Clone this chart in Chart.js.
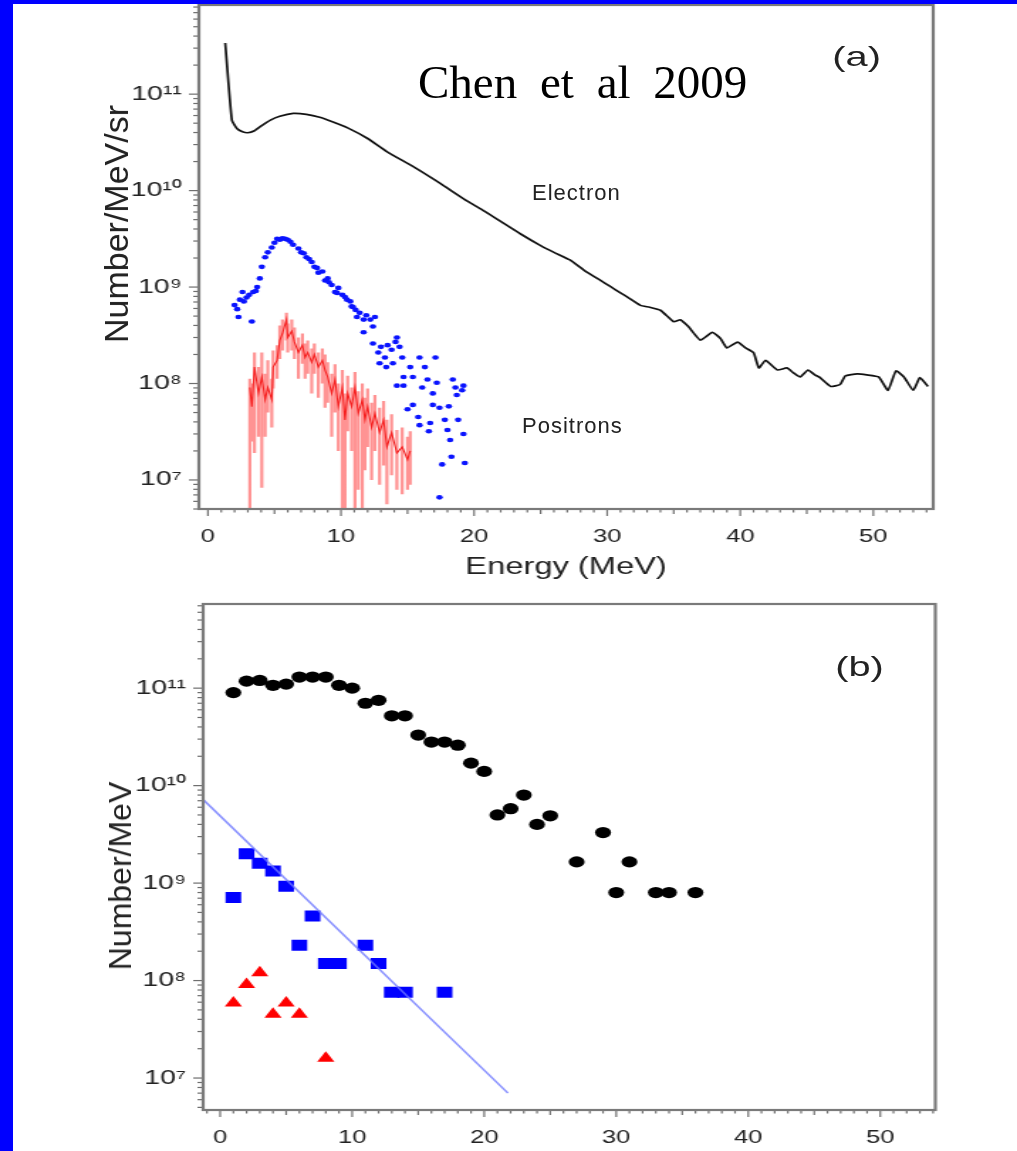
<!DOCTYPE html>
<html>
<head>
<meta charset="utf-8">
<script src="https://cdn.jsdelivr.net/npm/chart.js@4.4.1/dist/chart.umd.min.js"></script>
<style>
html, body { margin: 0; padding: 0; background: #fff; width: 1017px; height: 1151px; overflow: hidden; }
#wrap { position: absolute; left: 0; top: 0; width: 716px; height: 1151px; transform: scaleX(1.42039); transform-origin: 0 0; }
#wrap canvas { position: absolute; left: 0; }
.lbl { position: absolute; white-space: nowrap; line-height: 1; color: #222; font-family: 'Liberation Sans', Arial, Helvetica, sans-serif; }
.ytitle { transform: translate(-50%, -50%) rotate(-90deg); }
.bar { position: absolute; background: #0000ff; }
</style>
</head>
<body>
<div id="wrap">
  <canvas id="chartA" width="716" height="590" style="top:0"></canvas>
  <canvas id="chartB" width="716" height="561" style="top:590px"></canvas>
  <div class="lbl" style="left:586px; top:43px; font-size:28px;">(a)</div>
  <div class="lbl" style="left:588px; top:653px; font-size:28px;">(b)</div>
</div>
<div class="lbl" style="left:532px; top:182px; font-size:22px; letter-spacing:1px;">Electron</div>
<div class="lbl" style="left:522px; top:415px; font-size:22px; letter-spacing:1px;">Positrons</div>
<div class="lbl ytitle" style="left:116px; top:224px; font-size:34px;">Number/MeV/sr</div>
<div class="lbl ytitle" style="left:120px; top:876px; font-size:32px;">Number/MeV</div>
<div class="lbl" style="left:418px; top:59px; font-size:47px; color:#000; word-spacing:11px; font-family:'Liberation Serif','Times New Roman',serif;">Chen et al 2009</div>
<div class="bar" style="left:0; top:0; width:13px; height:1151px;"></div>
<div class="bar" style="left:0; top:0; width:1017px; height:4px;"></div>

<script>
const FONT = "'Liberation Sans', Arial, Helvetica, sans-serif";
Chart.defaults.font.family = FONT;
Chart.defaults.color = '#222';
Chart.defaults.animation = false;

// axis ticks
const xTicks = [0, 10, 20, 30, 40, 50];
const yTicks = [1e7, 1e8, 1e9, 1e10, 1e11];

// (a) electron spectrum (MeV, Number/MeV/sr)
const elecE = [1.3, 1.8, 2.2, 2.6, 3.0, 3.5, 3.9, 4.7, 5.4, 6.4, 7.4, 8.4, 9.4, 10.5, 12, 13.5, 15.4, 17.4,
  19.5, 20.5, 22, 23.5, 25, 26, 27.2, 28.3, 29.5, 30.2, 31, 31.7, 32.5, 33.2, 34, 35, 35.5, 36.1, 37, 37.9,
  38.5, 39, 39.8, 40.4, 41, 41.4, 41.9, 42.8, 43.5, 44, 44.5, 45.1, 45.6, 46, 46.8, 47.5, 47.9, 48.8, 49.5,
  50.4, 51.1, 51.7, 52.3, 53, 53.5, 54.1];
const elecN = [3.39e11, 5.37e10, 4.37e10, 4.07e10, 3.98e10, 4.17e10, 4.57e10, 5.37e10, 5.89e10, 6.31e10,
  6.17e10, 5.75e10, 5.13e10, 4.47e10, 3.47e10, 2.51e10, 1.78e10, 1.2e10, 7.76e9, 6.46e9, 4.79e9, 3.55e9,
  2.69e9, 2.29e9, 1.91e9, 1.48e9, 1.17e9, 1.02e9, 8.71e8, 7.59e8, 6.46e8, 6.17e8, 5.75e8, 4.37e8, 4.57e8,
  3.89e8, 2.82e8, 3.39e8, 2.95e8, 2.34e8, 2.69e8, 2.34e8, 2.09e8, 1.45e8, 1.74e8, 1.38e8, 1.45e8, 1.29e8,
  1.17e8, 1.38e8, 1.23e8, 1.15e8, 9.33e7, 9.77e7, 1.2e8, 1.26e8, 1.23e8, 1.17e8, 8.51e7, 1.35e8, 1.17e8,
  8.51e7, 1.15e8, 9.33e7];

// (a) positrons, blue points
const posE = [2.0, 2.2, 2.3, 2.4, 2.6, 2.7, 2.9, 3.1, 3.3, 3.4, 3.6, 3.7, 3.9, 4.05, 4.3, 4.5, 4.8, 5.0,
  5.2, 5.4, 5.6, 5.8, 6.0, 6.2, 6.4, 6.8, 7.0, 7.2, 7.4, 7.6, 7.8, 8.0, 8.2, 8.3, 8.6, 8.8, 9.0, 9.1, 9.3,
  9.55, 9.7, 9.8, 10.1, 10.3, 10.45, 10.7, 10.8, 10.9, 11.1, 11.2, 11.4, 11.7, 11.7, 11.9, 12.2, 12.4, 12.4,
  12.55, 12.8, 12.9, 13.0, 13.3, 13.4, 13.5, 13.8, 13.9, 14.1, 14.2, 14.2, 14.4, 14.6, 14.7, 14.7, 15.0,
  15.2, 15.4, 15.4, 15.8, 15.9, 15.9, 16.1, 16.3, 16.5, 16.6, 16.7, 16.9, 16.9, 17.1, 17.2, 17.4, 17.4,
  17.6, 17.8, 18.0, 18.1, 18.2, 18.3, 18.4, 18.6, 18.7, 18.8, 19.1, 19.2, 19.2, 19.3];
const posN = [6.5e8, 5.9e8, 4.9e8, 7.4e8, 8.9e8, 7.1e8, 7.8e8, 8.3e8, 4.4e8, 8.9e8, 9.1e8, 1.0e9, 1.23e9,
  1.62e9, 2.04e9, 2.29e9, 2.57e9, 2.88e9, 3.16e9, 3.09e9, 3.2e9, 3.16e9, 3.09e9, 2.95e9, 2.75e9, 2.51e9,
  2.29e9, 2.24e9, 2.04e9, 1.95e9, 1.82e9, 1.62e9, 1.58e9, 1.41e9, 1.45e9, 1.17e9, 1.23e9, 1.12e9, 1.05e9,
  8.9e8, 8.7e8, 9.8e8, 8.3e8, 7.9e8, 7.4e8, 7.1e8, 6.3e8, 6.2e8, 5.8e8, 4.9e8, 5.4e8, 4.6e8, 3.4e8, 5.1e8,
  4.6e8, 3.9e8, 2.6e8, 4.9e8, 2.1e8, 1.62e8, 2.4e8, 1.86e8, 1.48e8, 2.5e8, 2.24e8, 1.62e8, 2.7e8, 3.0e8,
  9.5e7, 2.4e8, 1.86e8, 9.5e7, 1.17e8, 5.4e7, 1.48e8, 1.17e8, 6.0e7, 4.5e7, 1.86e8, 3.7e7, 9.1e7, 1.48e8,
  1.1e8, 3.2e7, 3.9e7, 7.9e7, 6.0e7, 1.86e8, 1.02e8, 5.6e7, 6.6e6, 1.45e7, 4.2e7, 3.3e7, 5.8e7, 2.6e7,
  1.74e7, 1.1e8, 9.1e7, 7.6e7, 4.2e7, 8.5e7, 3.0e7, 9.5e7, 1.5e7];

// (a) positrons, red line with error bars
const redE = [3.15, 3.3, 3.5, 3.8, 4.05, 4.3, 4.5, 4.8, 4.9, 5.2, 5.4, 5.6, 5.9, 6.0, 6.3, 6.5, 6.8, 7.1,
  7.3, 7.5, 7.8, 8.0, 8.3, 8.6, 8.8, 9.0, 9.3, 9.55, 9.8, 10.1, 10.3, 10.5, 10.8, 11.05, 11.3, 11.6, 11.8,
  12.0, 12.3, 12.55, 12.9, 13.2, 13.45, 13.8, 14.2, 14.6, 15.0, 15.2];
const redN = [9.1e7, 5.75e7, 1.48e8, 7.9e7, 1.17e8, 6.8e7, 9.1e7, 6.8e7, 1.48e8, 1.74e8, 2.8e8, 3.3e8,
  4.6e8, 3.0e8, 3.5e8, 2.7e8, 2.1e8, 2.5e8, 1.86e8, 2.1e8, 1.66e8, 2.0e8, 1.48e8, 1.74e8, 1.38e8, 1.17e8,
  7.9e7, 1.1e8, 5.75e7, 9.1e7, 4.2e7, 7.9e7, 5.75e7, 9.1e7, 4.9e7, 6.8e7, 4.2e7, 5.75e7, 3.5e7, 4.9e7,
  3.1e7, 4.2e7, 2.2e7, 3.1e7, 1.9e7, 2.2e7, 1.62e7, 2.0e7];
const redLo = [1e6, 2.5e7, 1.9e7, 2.8e7, 8.3e6, 2.8e7, 5.0e7, 3.5e7, 8.9e7, 1.12e8, 1.8e8, 2.2e8, 2.8e8,
  2.1e8, 2.2e8, 1.8e8, 1.12e8, 1.6e8, 1.12e8, 1.26e8, 7.9e7, 1.26e8, 7.1e7, 1.0e8, 5.6e7, 6.3e7, 2.8e7,
  5.0e7, 2.0e7, 1e6, 1e6, 3.2e7, 2.0e7, 1e6, 7.9e6, 1e6, 1.26e7, 2.2e7, 1.0e7, 2.0e7, 8.9e6, 1.41e7, 5.6e6,
  1.12e7, 7.9e6, 7.1e6, 7.9e6, 8.9e6];
const redHi = [1.12e8, 1.0e8, 2.1e8, 1.48e8, 2.1e8, 1.26e8, 1.74e8, 1.12e8, 2.2e8, 2.5e8, 4.0e8, 4.6e8,
  5.4e8, 4.2e8, 4.6e8, 3.8e8, 3.0e8, 3.3e8, 2.6e8, 2.8e8, 2.3e8, 2.6e8, 2.1e8, 2.3e8, 2.0e8, 1.66e8, 1.26e8,
  1.58e8, 1.0e8, 1.38e8, 7.9e7, 1.2e8, 9.1e7, 1.32e8, 8.3e7, 1.0e8, 7.1e7, 8.9e7, 6.3e7, 7.6e7, 5.6e7,
  6.6e7, 4.2e7, 4.8e7, 3.3e7, 3.5e7, 2.8e7, 3.2e7];

// (b) binned spectra (MeV, Number/MeV)
const binE = [1, 2, 3, 4, 5, 6, 7, 8, 9, 10, 11, 12, 13, 14, 15, 16, 17, 18, 19, 20, 21, 22, 23, 24, 25,
  27, 29, 30, 31, 33, 34, 36];
const binN = [9.0e10, 1.18e11, 1.2e11, 1.07e11, 1.1e11, 1.3e11, 1.3e11, 1.3e11, 1.07e11, 1.0e11, 7.0e10,
  7.5e10, 5.2e10, 5.2e10, 3.3e10, 2.8e10, 2.8e10, 2.6e10, 1.7e10, 1.4e10, 5.0e9, 5.8e9, 8.0e9, 4.0e9, 4.9e9,
  1.65e9, 3.3e9, 8.0e8, 1.65e9, 8.0e8, 8.0e8, 8.0e8];
const sqE = [1, 2, 3, 4, 5, 6, 7, 8, 9, 11, 12, 13, 14, 17];
const sqN = [7.1e8, 2.0e9, 1.6e9, 1.33e9, 9.3e8, 2.3e8, 4.6e8, 1.5e8, 1.5e8, 2.3e8, 1.5e8, 7.6e7, 7.6e7, 7.6e7];
const triE = [1, 2, 3, 4, 5, 6, 8];
const triN = [5.9e7, 9.1e7, 1.2e8, 4.5e7, 5.9e7, 4.5e7, 1.6e7];
const fitE = [-1.29, 21.8];
const fitN = [7.2e9, 7.0e6];

const pts = (xs, ys) => xs.map((x, i) => ({x: x, y: ys[i]}));
const errPts = redE.flatMap((x, i) => [{x: x, y: redLo[i]}, {x: x, y: redHi[i]}, {x: x, y: null}]);

const supMap = {'0': '⁰', '1': '¹', '2': '²', '3': '³', '4': '⁴', '5': '⁵', '6': '⁶', '7': '⁷', '8': '⁸', '9': '⁹'};
const powLabel = v => '10' + String(Math.round(Math.log10(v))).replace(/\d/g, d => supMap[d]);

// frame and minor ticks, drawn from the scales
const frameTicks = {
  id: 'frameTicks',
  afterDraw(chart) {
    const {ctx, chartArea: a, scales: {x, y}} = chart;
    ctx.save();
    ctx.strokeStyle = '#6f6f6f';
    ctx.lineWidth = 1.2;
    for (let v = Math.ceil(x.min); v <= x.max; v++) {
      const px = x.getPixelForValue(v);
      const len = v % 10 === 0 ? 7 : (v % 5 === 0 ? 5 : 3.5);
      ctx.beginPath();
      ctx.moveTo(px, a.bottom);
      ctx.lineTo(px, a.bottom + len);
      ctx.stroke();
    }
    const e0 = Math.floor(Math.log10(y.min)), e1 = Math.ceil(Math.log10(y.max));
    for (let e = e0; e <= e1; e++) {
      for (let m = 1; m < 10; m++) {
        const v = m * Math.pow(10, e);
        if (v < y.min || v > y.max) continue;
        const py = y.getPixelForValue(v);
        const len = m === 1 ? 7 : 4;
        ctx.beginPath();
        ctx.moveTo(a.left, py);
        ctx.lineTo(a.left - len, py);
        ctx.stroke();
      }
    }
    ctx.strokeStyle = '#7a7a7a';
    ctx.lineWidth = 2.2;
    ctx.strokeRect(a.left, a.top, a.right - a.left, a.bottom - a.top);
    ctx.restore();
  }
};

function axes(xMin, xMax, yMin, yMax, yWidth, xHeight, xTitle) {
  return {
    x: {
      type: 'linear', min: xMin, max: xMax, offset: false,
      grid: {display: false, drawTicks: false}, border: {display: false},
      afterBuildTicks: s => { s.ticks = xTicks.map(v => ({value: v})); },
      afterFit: s => { s.height = xHeight; s.paddingLeft = 0; s.paddingRight = 0; },
      ticks: {padding: 17, autoSkip: false, maxRotation: 0, color: '#222', font: {size: 18}},
      title: xTitle ? {display: true, text: xTitle, color: '#222', font: {size: 23}, padding: {top: 0, bottom: 9}} : {display: false}
    },
    y: {
      type: 'logarithmic', min: yMin, max: yMax,
      grid: {display: false, drawTicks: false}, border: {display: false},
      afterBuildTicks: s => { s.ticks = yTicks.map(v => ({value: v})); },
      afterFit: s => { s.width = yWidth; s.paddingTop = 0; s.paddingBottom = 0; },
      ticks: {padding: 12, color: '#222', font: {size: 20}, callback: v => powLabel(v)}
    }
  };
}

const common = {
  responsive: false,
  devicePixelRatio: 1,
  plugins: {legend: {display: false}, tooltip: {enabled: false}},
  events: []
};

new Chart(document.getElementById('chartA'), {
  type: 'scatter',
  data: {
    datasets: [
      {type: 'line', data: errPts, showLine: true, spanGaps: false, borderColor: 'rgba(255,40,40,0.5)', borderWidth: 2.2, pointRadius: 0},
      {type: 'line', data: pts(redE, redN), showLine: true, borderColor: 'rgba(235,0,0,0.9)', borderWidth: 1.1, pointRadius: 0},
      {type: 'scatter', data: pts(posE, posN), pointRadius: 2.3, pointBackgroundColor: '#0a14ff', pointBorderWidth: 0},
      {type: 'line', data: pts(elecE, elecN), showLine: true, borderColor: '#111', borderWidth: 1.7, pointRadius: 0, tension: 0.15}
    ]
  },
  options: Object.assign({}, common, {
    layout: {padding: {left: 0, top: 5, right: 59, bottom: 0}},
    scales: axes(-0.68, 54.5, 5.0e6, 8.4e11, 140, 81, 'Energy (MeV)')
  }),
  plugins: [frameTicks]
});

new Chart(document.getElementById('chartB'), {
  type: 'scatter',
  data: {
    datasets: [
      {type: 'line', data: pts(fitE, fitN), showLine: true, borderColor: 'rgba(110,120,255,0.8)', borderWidth: 1.6, pointRadius: 0},
      {type: 'scatter', data: pts(binE, binN), pointStyle: 'circle', pointRadius: 5.6, pointBackgroundColor: '#000', pointBorderWidth: 0},
      {type: 'scatter', data: pts(sqE, sqN), pointStyle: 'rect', pointRadius: 7.8, pointBackgroundColor: '#0000ff', pointBorderWidth: 0},
      {type: 'scatter', data: pts(triE, triN), pointStyle: 'triangle', pointRadius: 7, pointBackgroundColor: '#ff0000', pointBorderWidth: 0}
    ]
  },
  options: Object.assign({}, common, {
    layout: {padding: {left: 0, top: 14, right: 57.5, bottom: 0}},
    scales: axes(-1.29, 54.17, 4.7e6, 7.3e11, 143, 41, null)
  }),
  plugins: [frameTicks]
});
</script>
</body>
</html>
